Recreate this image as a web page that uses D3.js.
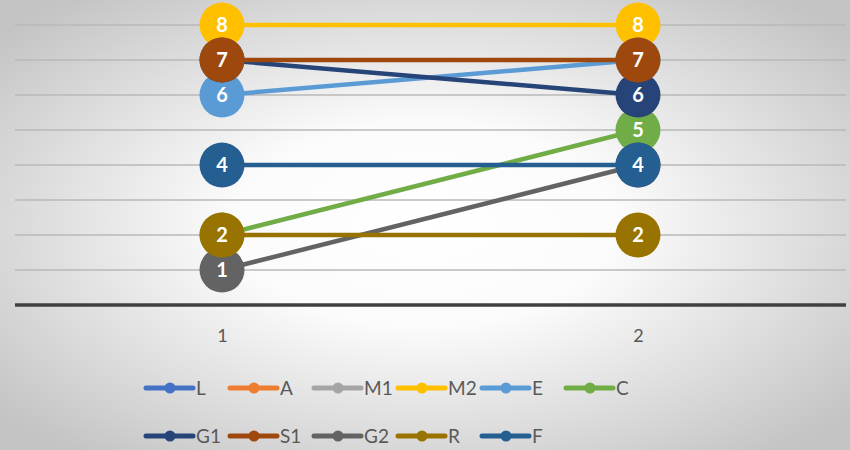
<!DOCTYPE html>
<html><head><meta charset="utf-8">
<script src="https://cdn.jsdelivr.net/npm/d3@7"></script>
<style>body{margin:0;}svg{display:block;}</style>
</head><body>
<svg id="chart" width="850" height="450"></svg>
<script>
const categories = ["1", "2"];
const seriesNames = ["L", "A", "M1", "M2", "E", "C", "G1", "S1", "G2", "R", "F"];
const seriesColors = ["#4472C4", "#ED7D31", "#A5A5A5", "#FFC000", "#5B9BD5", "#70AD47", "#264478", "#9E480E", "#636363", "#997300", "#255E91"];
const L = [null, null];
const A = [null, null];
const M1 = [null, null];
const M2 = [8, 8];
const E = [6, 7];
const C = [2, 5];
const G1 = [7, 6];
const S1 = [7, 7];
const G2 = [1, 4];
const R = [2, 2];
const F = [4, 4];
const seriesValues = [L, A, M1, M2, E, C, G1, S1, G2, R, F];
const yTicks = [1, 2, 3, 4, 5, 6, 7, 8];

const svg = d3.select("#chart");
const W = 850, H = 450;
const defs = svg.append("defs");
const grad = defs.append("radialGradient").attr("id", "bg")
  .attr("cx", "50%").attr("cy", "50%").attr("r", "65%");
grad.append("stop").attr("offset", "0%").attr("stop-color", "#ffffff");
grad.append("stop").attr("offset", "35%").attr("stop-color", "#fbfbfb");
grad.append("stop").attr("offset", "100%").attr("stop-color", "#c4c4c4");
svg.append("rect").attr("width", W).attr("height", H).attr("fill", "url(#bg)");

const x = d3.scalePoint().domain(categories).range([14, 846]).padding(0.5);
const y = d3.scaleLinear().domain([0, 8]).range([305, 25]);

// gridlines
svg.append("g").selectAll("line").data(yTicks).join("line")
  .attr("x1", 15).attr("x2", 846)
  .attr("y1", d => y(d)).attr("y2", d => y(d))
  .attr("stroke", "#b8b8b8").attr("stroke-width", 1.5);

// category axis
const xAxis = svg.append("g").attr("transform", `translate(0,${y(0)})`)
  .call(d3.axisBottom(x).tickSize(0).tickPadding(24));
xAxis.select(".domain").remove();
xAxis.append("line").attr("x1", 15).attr("x2", 846).attr("y1", 0).attr("y2", 0)
  .attr("stroke", "#404040").attr("stroke-width", 3.5);
xAxis.selectAll("text").attr("font-family", "Lato, sans-serif")
  .attr("font-size", 18).attr("fill", "#595959");

// series
const line = d3.line().defined(d => d.v != null).x(d => x(d.c)).y(d => y(d.v));
seriesNames.forEach((name, i) => {
  const pts = categories.map((c, j) => ({c, v: seriesValues[i][j]}));
  const g = svg.append("g");
  g.append("path").datum(pts).attr("d", line).attr("fill", "none")
    .attr("stroke", seriesColors[i]).attr("stroke-width", 4.5);
  const valid = pts.filter(d => d.v != null);
  g.selectAll("circle").data(valid).join("circle")
    .attr("cx", d => x(d.c)).attr("cy", d => y(d.v)).attr("r", 22.5)
    .attr("fill", seriesColors[i]);
  g.selectAll("text").data(valid).join("text")
    .attr("x", d => x(d.c)).attr("y", d => y(d.v)).attr("dy", "0.36em")
    .attr("text-anchor", "middle").attr("font-family", "Lato, sans-serif")
    .attr("font-weight", "bold").attr("font-size", 20).attr("fill", "#ffffff")
    .text(d => d.v);
});

// legend
const legend = svg.append("g");
seriesNames.forEach((name, i) => {
  const col = i % 6, row = Math.floor(i / 6);
  const lx = 146 + col * 84, ly = 388 + row * 48;
  const g = legend.append("g").attr("transform", `translate(${lx},${ly})`);
  g.append("line").attr("x1", 0).attr("x2", 47).attr("y1", 0).attr("y2", 0)
    .attr("stroke", seriesColors[i]).attr("stroke-width", 5).attr("stroke-linecap", "round");
  g.append("circle").attr("cx", 24).attr("cy", 0).attr("r", 5.5).attr("fill", seriesColors[i]);
  g.append("text").attr("x", 50).attr("y", 0).attr("dy", "0.36em")
    .attr("font-family", "Lato, sans-serif").attr("font-size", 19)
    .attr("fill", "#595959").text(name);
});
</script>
</body></html>
